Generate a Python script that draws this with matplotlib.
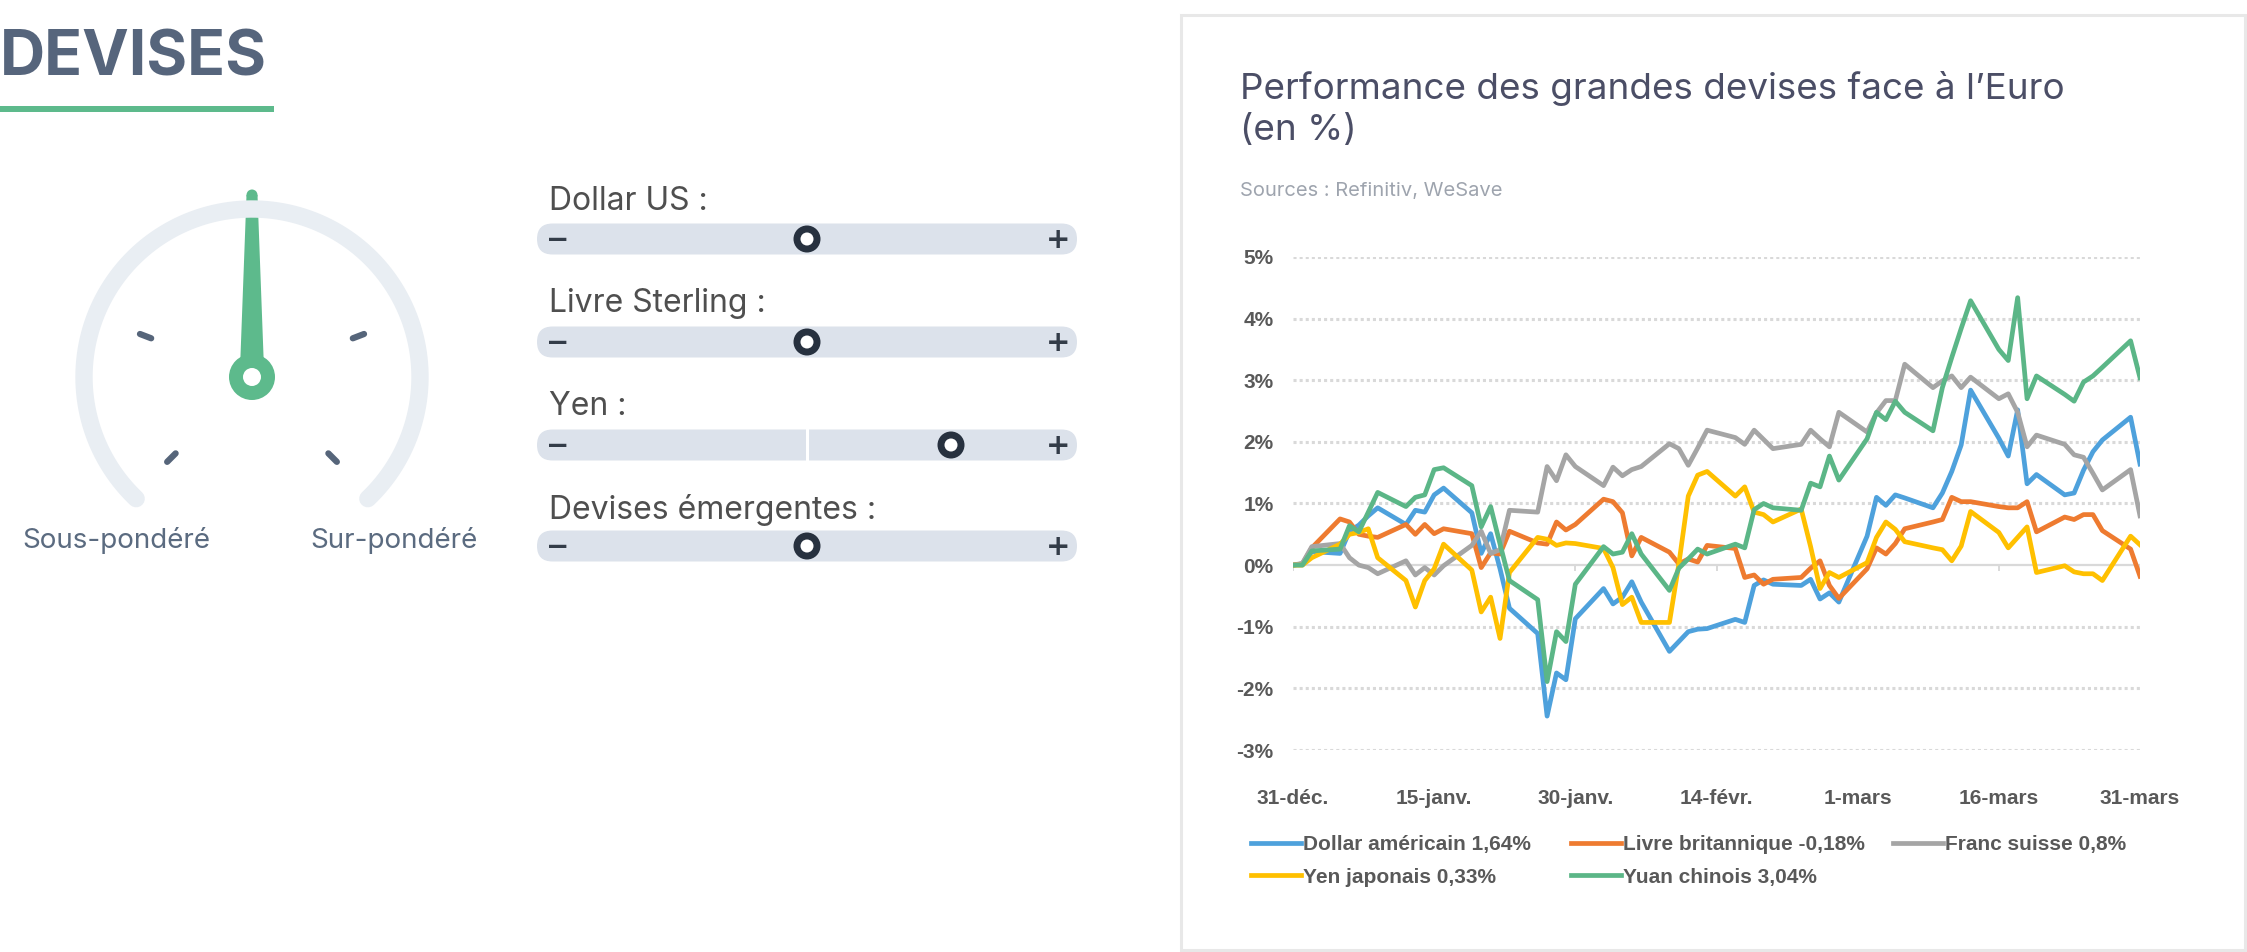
import matplotlib
matplotlib.use("Agg")
import matplotlib.pyplot as plt
from matplotlib import font_manager
from matplotlib.patches import Rectangle, FancyBboxPatch, Circle, Polygon
import numpy as np
import pandas as pd

W, H = 2247, 952

# ---- données du graphique ----
dates = [
    "2025-12-31", "2026-01-01", "2026-01-02",
    "2026-01-05", "2026-01-06", "2026-01-07", "2026-01-08", "2026-01-09",
    "2026-01-12", "2026-01-13", "2026-01-14", "2026-01-15", "2026-01-16",
    "2026-01-19", "2026-01-20", "2026-01-21", "2026-01-22", "2026-01-23",
    "2026-01-26", "2026-01-27", "2026-01-28", "2026-01-29", "2026-01-30",
    "2026-02-02", "2026-02-03", "2026-02-04", "2026-02-05", "2026-02-06",
    "2026-02-09", "2026-02-10", "2026-02-11", "2026-02-12", "2026-02-13",
    "2026-02-16", "2026-02-17", "2026-02-18", "2026-02-19", "2026-02-20",
    "2026-02-23", "2026-02-24", "2026-02-25", "2026-02-26", "2026-02-27",
    "2026-03-02", "2026-03-03", "2026-03-04", "2026-03-05", "2026-03-06",
    "2026-03-09", "2026-03-10", "2026-03-11", "2026-03-12", "2026-03-13",
    "2026-03-16", "2026-03-17", "2026-03-18", "2026-03-19", "2026-03-20",
    "2026-03-23", "2026-03-24", "2026-03-25", "2026-03-26", "2026-03-27",
    "2026-03-30", "2026-03-31",
]

dollar = [0.00, 0.02, 0.22,
          0.19, 0.55, 0.65, 0.80, 0.93,
          0.66, 0.89, 0.86, 1.14, 1.25,
          0.85, 0.19, 0.51, -0.06, -0.70,
          -1.11, -2.45, -1.75, -1.86, -0.87,
          -0.38, -0.63, -0.52, -0.27, -0.60,
          -1.40, -1.24, -1.08, -1.04, -1.03,
          -0.88, -0.93, -0.33, -0.24, -0.31,
          -0.33, -0.23, -0.55, -0.45, -0.60,
          0.47, 1.10, 0.97, 1.14, 1.09,
          0.93, 1.17, 1.52, 1.95, 2.84,
          2.06, 1.77, 2.52, 1.32, 1.47,
          1.14, 1.17, 1.54, 1.84, 2.03,
          2.40, 1.64]

livre = [0.00, 0.02, 0.28,
         0.75, 0.70, 0.50, 0.47, 0.45,
         0.66, 0.50, 0.66, 0.51, 0.59,
         0.51, -0.04, 0.20, 0.18, 0.55,
         0.36, 0.34, 0.70, 0.57, 0.66,
         1.07, 1.03, 0.85, 0.15, 0.45,
         0.21, 0.02, 0.10, 0.05, 0.32,
         0.27, -0.20, -0.16, -0.31, -0.23,
         -0.20, -0.05, 0.07, -0.33, -0.54,
         -0.06, 0.28, 0.18, 0.35, 0.59,
         0.70, 0.74, 1.10, 1.03, 1.03,
         0.95, 0.93, 0.93, 1.03, 0.54,
         0.78, 0.74, 0.82, 0.82, 0.56,
         0.26, -0.18]

franc = [0.00, 0.03, 0.30,
         0.35, 0.12, 0.00, -0.04, -0.14,
         0.07, -0.16, -0.04, -0.16, -0.01,
         0.32, 0.55, 0.19, 0.25, 0.89,
         0.86, 1.60, 1.37, 1.79, 1.60,
         1.29, 1.59, 1.45, 1.55, 1.60,
         1.97, 1.89, 1.62, 1.90, 2.19,
         2.07, 1.96, 2.19, 2.04, 1.89,
         1.96, 2.19, 2.05, 1.92, 2.48,
         2.16, 2.47, 2.67, 2.67, 3.26,
         2.88, 2.99, 3.07, 2.88, 3.05,
         2.70, 2.78, 2.48, 1.92, 2.11,
         1.96, 1.79, 1.75, 1.49, 1.22,
         1.55, 0.80]

yen = [0.00, 0.00, 0.12,
       0.34, 0.50, 0.53, 0.59, 0.12,
       -0.25, -0.68, -0.25, -0.06, 0.34,
       -0.08, -0.76, -0.52, -1.19, -0.12,
       0.45, 0.42, 0.32, 0.36, 0.35,
       0.27, -0.04, -0.64, -0.52, -0.93,
       -0.93, 0.02, 1.12, 1.46, 1.52,
       1.12, 1.27, 0.86, 0.82, 0.70,
       0.91, 0.30, -0.38, -0.12, -0.20,
       0.04, 0.45, 0.70, 0.58, 0.38,
       0.28, 0.25, 0.07, 0.31, 0.87,
       0.53, 0.28, 0.45, 0.62, -0.12,
       -0.01, -0.11, -0.14, -0.14, -0.25,
       0.47, 0.33]

yuan = [0.00, 0.00, 0.23,
        0.26, 0.64, 0.54, 0.86, 1.18,
        0.95, 1.10, 1.14, 1.55, 1.58,
        1.29, 0.62, 0.95, 0.34, -0.25,
        -0.56, -1.89, -1.08, -1.24, -0.31,
        0.30, 0.18, 0.21, 0.51, 0.18,
        -0.41, -0.05, 0.10, 0.26, 0.18,
        0.34, 0.28, 0.90, 1.00, 0.93,
        0.89, 1.33, 1.27, 1.77, 1.38,
        2.05, 2.48, 2.36, 2.66, 2.48,
        2.18, 2.88, 3.37, 3.84, 4.29,
        3.50, 3.32, 4.34, 2.70, 3.07,
        2.77, 2.66, 2.97, 3.07, 3.21,
        3.64, 3.04]

series_labels = ["Dollar américain 1,64%", "Livre britannique -0,18%",
                 "Franc suisse 0,8%", "Yen japonais 0,33%", "Yuan chinois 3,04%"]
series_colors = ["#4ea1dc", "#ee7b30", "#a5a5a5", "#ffc000", "#5bb687"]

xtick_dates = ["2025-12-31", "2026-01-15", "2026-01-30", "2026-02-14",
               "2026-03-01", "2026-03-16", "2026-03-31"]
xtick_labels = ["31-déc.", "15-janv.", "30-janv.", "14-févr.",
                "1-mars", "16-mars", "31-mars"]
ytick_values = [-3, -2, -1, 0, 1, 2, 3, 4, 5]

# panneau de gauche
slider_labels = ["Dollar US :", "Livre Sterling :", "Yen :", "Devises émergentes :"]
slider_pos = [0.5, 0.5, 0.8, 0.5]   # position du curseur (0 = -, 1 = +)


def pick(*names):
    avail = {f.name for f in font_manager.fontManager.ttflist}
    for n in names:
        if n in avail:
            return n
    return "DejaVu Sans"


UI = pick("Inter", "Roboto", "Open Sans", "DejaVu Sans")
XL = pick("Liberation Sans", "Arimo", "DejaVu Sans")

fig = plt.figure(figsize=(W / 100, H / 100), dpi=100)
fig.patch.set_facecolor("white")

# axes de fond en pixels (y vers le bas)
bg = fig.add_axes([0, 0, 1, 1])
bg.set_xlim(0, W)
bg.set_ylim(H, 0)
bg.axis("off")

# ---- titre DEVISES ----
bg.text(0, 76, "DEVISES", fontsize=45, fontweight="bold", color="#56657c",
        family=UI, ha="left", va="baseline")
bg.add_patch(Rectangle((0, 106), 274, 6, color="#5dba8c", lw=0))

# ---- jauge ----
cx, cy, r = 252, 377, 168
t = np.deg2rad(np.linspace(-46.4, 226.4, 300))
bg.plot(cx + r * np.cos(t), cy - r * np.sin(t), color="#e9eef3", lw=12.5,
        solid_capstyle="round")
for ang in [159, 21, 225, 315]:
    a = np.deg2rad(ang)
    bg.plot([cx + 108 * np.cos(a), cx + 120 * np.cos(a)],
            [cy - 108 * np.sin(a), cy - 120 * np.sin(a)],
            color="#56657a", lw=4.5, solid_capstyle="round")
tip = 190
bg.add_patch(Polygon([(cx - 12, cy - 8), (cx - 5.5, tip + 5), (cx + 5.5, tip + 5),
                      (cx + 12, cy - 8)], closed=True, color="#5dba8c", lw=0))
bg.add_patch(Circle((cx, tip + 5), 5.5, color="#5dba8c", lw=0))
bg.add_patch(Circle((cx, cy), 23, color="#5dba8c", lw=0))
bg.add_patch(Circle((cx, cy), 9, color="white", lw=0))
bg.text(116, 548, "Sous-pondéré", fontsize=20, color="#5b6b80", family=UI,
        ha="center", va="baseline")
bg.text(394, 548, "Sur-pondéré", fontsize=20, color="#5b6b80", family=UI,
        ha="center", va="baseline")

# ---- curseurs ----
bar_x0, bar_x1 = 537, 1077
label_base = [210, 312, 415, 519]
bar_mid = [239, 342, 445, 546]
for lab, lb, ym, p in zip(slider_labels, label_base, bar_mid, slider_pos):
    bg.text(549, lb, lab, fontsize=23, color="#4f4f4f", family=UI,
            ha="left", va="baseline")
    bg.add_patch(FancyBboxPatch((bar_x0, ym - 15.5), bar_x1 - bar_x0, 31,
                                boxstyle="round,pad=0,rounding_size=15.5",
                                color="#dce2eb", lw=0))
    if p != 0.5:
        bg.plot([807, 807], [ym - 15.5, ym + 15.5], color="white", lw=2.2)
    bg.text(558, ym + 1, "\u2212", fontsize=20, fontweight="bold", color="#333c48",
            family="DejaVu Sans", ha="center", va="center")
    bg.text(1058, ym + 1, "+", fontsize=21, fontweight="bold", color="#333c48",
            family="DejaVu Sans", ha="center", va="center")
    kx = bar_x0 + 30 + p * (bar_x1 - bar_x0 - 60)
    bg.add_patch(Circle((kx, ym), 13.5, color="#27313f", lw=0))
    bg.add_patch(Circle((kx, ym), 6.5, color="white", lw=0))

# ---- carte du graphique ----
bg.add_patch(Rectangle((1181, 15), 1064, 935, facecolor="white",
                       edgecolor="#e8e8e8", lw=2.2))
bg.text(1240, 99, "Performance des grandes devises face à l\u2019Euro",
        fontsize=26.5, color="#4b4e66", family=UI, ha="left", va="baseline")
bg.text(1240, 140, "(en %)", fontsize=26.5, color="#4b4e66", family=UI,
        ha="left", va="baseline")
bg.text(1240, 196, "Sources : Refinitiv, WeSave", fontsize=14.5, color="#9ea4ae",
        family=UI, ha="left", va="baseline")

# ---- graphique ----
x = pd.to_datetime(dates)
ax = fig.add_axes([1293 / W, 1 - 750 / H, (2140 - 1293) / W, (750 - 257) / H])
ax.patch.set_alpha(0)
ax.set_xlim(x[0], x[-1])
ax.set_ylim(-3, 5)
for s in ax.spines.values():
    s.set_visible(False)

for v in ytick_values:
    if v == 0:
        ax.axhline(0, color="#d9d9d9", lw=1.6, zorder=1)
    else:
        ax.axhline(v, color="#d9d9d9", lw=2.2, dashes=(1, 1), zorder=1)
xt = pd.to_datetime(xtick_dates)
ax.vlines(xt, -0.1, 0, color="#d9d9d9", lw=1.4, zorder=1)

lines = []
for vals, lab, col in zip([dollar, livre, franc, yen, yuan], series_labels, series_colors):
    ln, = ax.plot(x, vals, color=col, lw=3.4, label=lab, zorder=3,
                  solid_joinstyle="round")
    lines.append(ln)

tick_font = dict(family=XL, weight="bold", size=15)
ax.set_yticks(ytick_values)
ax.set_yticklabels([f"{v}%" for v in ytick_values], fontdict=tick_font, color="#595959")
ax.set_xticks(xt)
ax.set_xticklabels(xtick_labels, fontdict=tick_font, color="#595959")
ax.tick_params(axis="y", length=0, pad=14)
ax.tick_params(axis="x", length=0, pad=28)

# légende : trois colonnes placées comme dans l'original
leg_cols = [([lines[0], lines[3]], 1251), ([lines[1], lines[4]], 1571), ([lines[2]], 1893)]
for hs, xpix in leg_cols:
    leg = fig.legend(hs, [h.get_label() for h in hs], loc="upper left",
                     bbox_to_anchor=(xpix / W, 1 - 835 / H), frameon=False,
                     borderpad=0, borderaxespad=0, handlelength=2.4,
                     handletextpad=0.1, labelspacing=0.65,
                     prop=dict(family=XL, weight="bold", size=15))
    for txt in leg.get_texts():
        txt.set_color("#595959")

fig.savefig("out.png", dpi=100, facecolor="white")
